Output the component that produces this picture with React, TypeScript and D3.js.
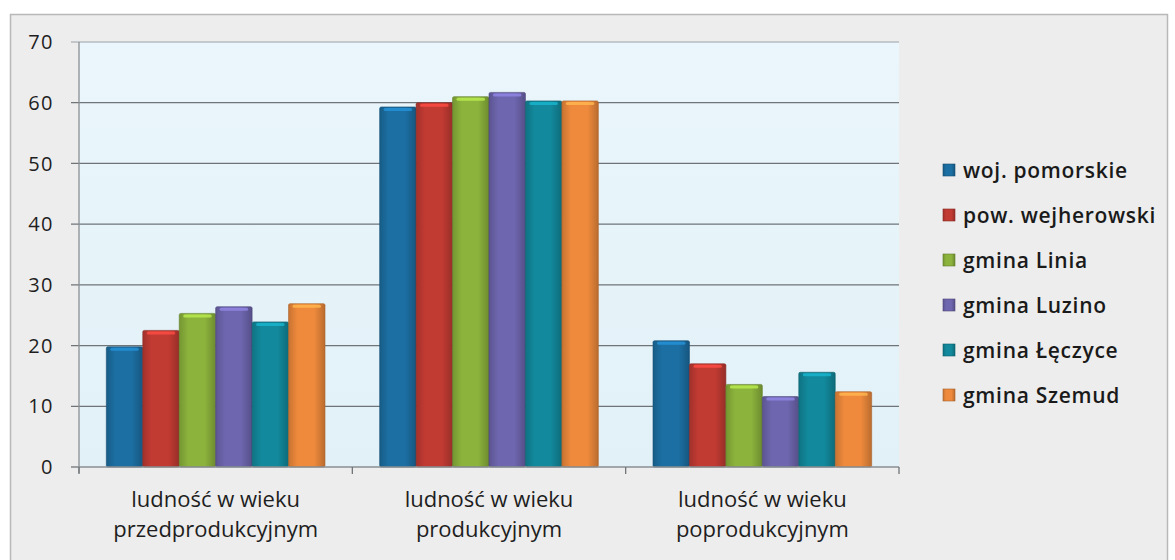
import React from "react";
import * as d3 from "d3";

const categories = [
  ["ludność w wieku", "przedprodukcyjnym"],
  ["ludność w wieku", "produkcyjnym"],
  ["ludność w wieku", "poprodukcyjnym"],
];
const seriesNames = [
  "woj. pomorskie",
  "pow. wejherowski",
  "gmina Linia",
  "gmina Luzino",
  "gmina Łęczyce",
  "gmina Szemud",
];
const seriesColors = ["#1c6fa3", "#c23b33", "#8cb33c", "#6e66ae", "#12899c", "#ef8a3c"];
const values: number[][] = [
  [19.8, 22.5, 25.3, 26.4, 23.9, 26.9],
  [59.3, 60.0, 61.0, 61.7, 60.3, 60.3],
  [20.8, 17.0, 13.6, 11.6, 15.6, 12.4],
];
const yTicks = [0, 10, 20, 30, 40, 50, 60, 70];

export default function App() {
  const W = 1175, H = 560;
  const left = 79, right = 899, top = 42, bottom = 467;
  const y = d3.scaleLinear().domain([0, 70]).range([bottom, top]);
  const x0 = d3.scaleBand<number>().domain(d3.range(categories.length)).range([left, right]).paddingInner(0.2).paddingOuter(0.1);
  const x1 = d3.scaleBand<number>().domain(d3.range(seriesNames.length)).range([0, x0.bandwidth()]);
  const font = "'Open Sans', 'Noto Sans', sans-serif";
  const catBoundaries = d3.range(categories.length + 1).map((i) => left + (i * (right - left)) / categories.length);
  return (
    <svg width={W} height={H} style={{ position: "absolute", left: 0, top: 0 }}>
      <defs>
        {seriesColors.map((c, i) => (
          <linearGradient key={i} id={`g${i}`} x1="0" x2="1" y1="0" y2="0">
            <stop offset="0" stopColor={d3.color(c)!.darker(0.5).toString()} />
            <stop offset="0.25" stopColor={c} />
            <stop offset="0.7" stopColor={c} />
            <stop offset="1" stopColor={d3.color(c)!.darker(0.7).toString()} />
          </linearGradient>
        ))}
        <linearGradient id="plotbg" x1="0" x2="0" y1="0" y2="1">
          <stop offset="0" stopColor="#eaf6fb" />
          <stop offset="1" stopColor="#e2f1f8" />
        </linearGradient>
      </defs>
      <rect x={0} y={0} width={W} height={H} fill="#ffffff" />
      <rect x={10.5} y={14.5} width={1157} height={560} fill="#ededed" stroke="#b8b8b8" strokeWidth={1.5} />
      <rect x={left} y={top} width={right - left} height={bottom - top} fill="url(#plotbg)" />
      {yTicks.map((t) => (
        <g key={t}>
          <line x1={left - 8} x2={t === 0 ? left : right} y1={y(t)} y2={y(t)} stroke={t === 70 ? "#9aa2a6" : "#6f7478"} strokeWidth={t === 70 ? 1.2 : 1.3} />
          <text x={54} y={y(t)} dy="0.36em" textAnchor="end" fontFamily={font} fontSize={20} fontWeight={500} letterSpacing={1.5} fill="#1e1e1e">{t}</text>
        </g>
      ))}
      <line x1={left} x2={left} y1={top} y2={bottom + 6} stroke="#8a8f93" strokeWidth={1.3} />
      {values.map((row, ci) =>
        row.map((v, si) => {
          const bx = x0(ci)! + x1(si)!;
          const bw = x1.bandwidth();
          return (
            <g key={`${ci}-${si}`}>
              <rect
                x={bx}
                y={y(v)}
                width={bw}
                height={y(0) - y(v)}
                fill={`url(#g${si})`}
                stroke={d3.color(seriesColors[si])!.darker(1).toString()}
                strokeWidth={0.6}
                rx={1.5}
              />
              <rect x={bx + 4} y={y(v) + 1} width={bw - 8} height={3} rx={1.5} fill={d3.color(seriesColors[si])!.brighter(0.8).toString()} opacity={0.8} />
            </g>
          );
        })
      )}
      <line x1={left} x2={right} y1={bottom} y2={bottom} stroke="#8a8f93" strokeWidth={1.3} />
      {catBoundaries.map((bx, i) => (
        <line key={i} x1={bx} x2={bx} y1={bottom} y2={bottom + 7} stroke="#6f7478" strokeWidth={1.3} />
      ))}
      {categories.map((lines, ci) => (
        <text key={ci} x={x0(ci)! + x0.bandwidth() / 2} y={507} textAnchor="middle" fontFamily={font} fontSize={22} fontWeight={500} fill="#1e1e1e">
          {lines.map((l, li) => (
            <tspan key={li} x={x0(ci)! + x0.bandwidth() / 2} dy={li === 0 ? 0 : 30}>{l}</tspan>
          ))}
        </text>
      ))}
      {seriesNames.map((n, si) => (
        <g key={n} transform={`translate(943, ${170 + si * 45})`}>
          <rect x={0} y={-6} width={12} height={12} fill={`url(#g${si})`} stroke={d3.color(seriesColors[si])!.darker(1).toString()} strokeWidth={0.6} />
          <text x={20} y={0} dy="0.36em" fontFamily={font} fontSize={21} fontWeight={600} letterSpacing={0.7} fill="#1a1a1a">{n}</text>
        </g>
      ))}
    </svg>
  );
}
